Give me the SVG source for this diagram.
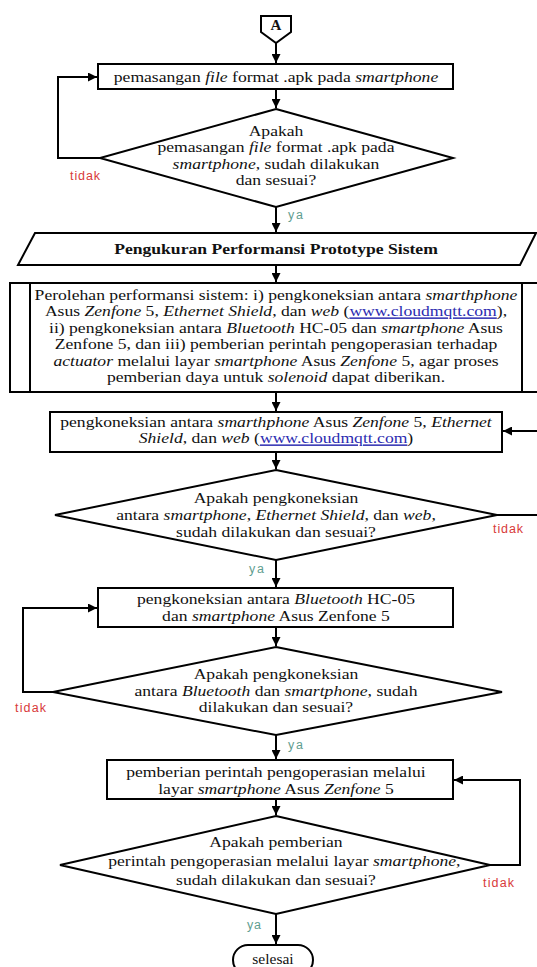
<svg xmlns="http://www.w3.org/2000/svg" width="537" height="967" viewBox="0 0 537 967">
<defs>
<style>
.s{fill:#fff;stroke:#000;stroke-width:2}
.c{fill:none;stroke:#000;stroke-width:2}
.t{font-family:"Liberation Serif","Times New Roman",serif;font-size:14.8px;fill:#111;text-anchor:middle}
.i{font-style:italic}
.b{font-weight:bold}
.lk{fill:#2b2bb0;text-decoration:underline}
.no{font-family:"Liberation Sans",Arial,sans-serif;font-size:12.5px;fill:#d83a3a}
.ya{font-family:"Liberation Sans",Arial,sans-serif;font-size:12.5px;fill:#5f9e90}
</style>
<marker id="ah" viewBox="0 0 10 10" refX="10" refY="5" markerWidth="9" markerHeight="9" markerUnits="userSpaceOnUse" orient="auto"><path d="M0,0 L10,5 L0,10 z" fill="#000"/></marker>
</defs>
<rect width="537" height="967" fill="#fff"/>

<g id="connectors">
<path class="c" d="M276,43 V63" marker-end="url(#ah)"/>
<path class="c" d="M276,89 V108" marker-end="url(#ah)"/>
<path class="c" d="M100,158 H58 V77 H97" marker-end="url(#ah)"/>
<path class="c" d="M276,207 V232" marker-end="url(#ah)"/>
<path class="c" d="M276,265 V282" marker-end="url(#ah)"/>
<path class="c" d="M276,392 V411" marker-end="url(#ah)"/>
<path class="c" d="M276,452 V469" marker-end="url(#ah)"/>
<path class="c" d="M497,515 H541 V431 H503" marker-end="url(#ah)"/>
<path class="c" d="M276,560 V587" marker-end="url(#ah)"/>
<path class="c" d="M276,627 V646" marker-end="url(#ah)"/>
<path class="c" d="M53,692 H23 V608 H97" marker-end="url(#ah)"/>
<path class="c" d="M276,735 V759" marker-end="url(#ah)"/>
<path class="c" d="M276,799 V815" marker-end="url(#ah)"/>
<path class="c" d="M490,865 H520 V780 H454" marker-end="url(#ah)"/>
<path class="c" d="M276,914 V944" marker-end="url(#ah)"/>
<text class="no" x="70" y="180" textLength="30">tidak</text>
<text class="ya" x="288" y="219" textLength="15">ya</text>
<text class="no" x="493" y="533" textLength="30">tidak</text>
<text class="ya" x="249" y="573" textLength="15">ya</text>
<text class="no" x="15" y="712" textLength="31">tidak</text>
<text class="ya" x="288" y="749" textLength="15">ya</text>
<text class="no" x="483" y="887" textLength="31">tidak</text>
<text class="ya" x="247" y="929" textLength="14">ya</text>
</g>

<g id="node-A">
<polygon class="s" points="261,16 291,16 291,32 276,43 261,32"/>
<text class="t b" x="276" y="30" style="font-size:15px">A</text>
</g>

<g id="node-install">
<rect class="s" x="98" y="64" width="355" height="25"/>
<g transform="matrix(1.19 0 0 1 -52.44 0)">
<text class="t" x="276" y="82">pemasangan <tspan class="i">file</tspan> format .apk pada <tspan class="i">smartphone</tspan></text>
</g>
</g>

<g id="node-check-install">
<polygon class="s" points="276,109 453,158 276,207 100,158"/>
<g transform="matrix(1.19 0 0 1 -52.44 0)">
<text class="t" x="276" y="136">Apakah</text>
<text class="t" x="276" y="152.5">pemasangan <tspan class="i">file</tspan> format .apk pada</text>
<text class="t" x="276" y="169">
<tspan class="i">smartphone</tspan>, sudah dilakukan</text>
<text class="t" x="276" y="185.5">dan sesuai?</text>
</g>
</g>

<g id="node-title">
<polygon class="s" points="35,233 536,233 520,265 18,265"/>
<g transform="matrix(1.19 0 0 1 -52.44 0)">
<text class="t b" x="276" y="254">Pengukuran Performansi Prototype Sistem</text>
</g>
</g>

<g id="node-performance">
<rect class="s" x="10" y="283" width="534" height="109"/>
<line class="c" x1="30" y1="283" x2="30" y2="392"/>
<line class="c" x1="522" y1="283" x2="522" y2="392"/>
<g transform="matrix(1.19 0 0 1 -52.44 0)">
<text class="t" x="276" y="300">Perolehan performansi sistem: i) pengkoneksian antara <tspan class="i">smarthphone</tspan></text>
<text class="t" x="276" y="316.5">Asus <tspan class="i">Zenfone</tspan> 5, <tspan class="i">Ethernet Shield</tspan>, dan <tspan class="i">web</tspan> (<tspan class="lk">www.cloudmqtt.com</tspan>),</text>
<text class="t" x="276" y="333">ii) pengkoneksian antara <tspan class="i">Bluetooth</tspan> HC-05 dan <tspan class="i">smartphone</tspan> Asus</text>
<text class="t" x="276" y="349.5">Zenfone 5, dan iii) pemberian perintah pengoperasian terhadap</text>
<text class="t" x="276" y="366"><tspan class="i">actuator</tspan> melalui layar <tspan class="i">smartphone</tspan> Asus <tspan class="i">Zenfone</tspan> 5, agar proses</text>
<text class="t" x="276" y="382.5">pemberian daya untuk <tspan class="i">solenoid</tspan> dapat diberikan.</text>
</g>
</g>

<g id="node-web">
<rect class="s" x="50" y="412" width="452" height="40"/>
<g transform="matrix(1.19 0 0 1 -52.44 0)">
<text class="t" x="276" y="427">pengkoneksian antara <tspan class="i">smarthphone</tspan> Asus <tspan class="i">Zenfone</tspan> 5, <tspan class="i">Ethernet</tspan></text>
<text class="t" x="276" y="443.5"><tspan class="i">Shield</tspan>, dan <tspan class="i">web</tspan> (<tspan class="lk">www.cloudmqtt.com</tspan>)</text>
</g>
</g>

<g id="node-check-web">
<polygon class="s" points="276,470 497,515 276,560 55,515"/>
<g transform="matrix(1.19 0 0 1 -52.44 0)">
<text class="t" x="276" y="503">Apakah pengkoneksian</text>
<text class="t" x="276" y="520">antara <tspan class="i">smartphone</tspan>, <tspan class="i">Ethernet Shield</tspan>, dan <tspan class="i">web</tspan>,</text>
<text class="t" x="276" y="537">sudah dilakukan dan sesuai?</text>
</g>
</g>

<g id="node-bluetooth">
<rect class="s" x="98" y="588" width="355" height="39"/>
<g transform="matrix(1.19 0 0 1 -52.44 0)">
<text class="t" x="276" y="604">pengkoneksian antara <tspan class="i">Bluetooth</tspan> HC-05</text>
<text class="t" x="276" y="621">dan <tspan class="i">smartphone</tspan> Asus Zenfone 5</text>
</g>
</g>

<g id="node-check-bluetooth">
<polygon class="s" points="276,647 502,692 276,735 53,692"/>
<g transform="matrix(1.19 0 0 1 -52.44 0)">
<text class="t" x="276" y="679.5">Apakah pengkoneksian</text>
<text class="t" x="276" y="696">antara <tspan class="i">Bluetooth</tspan> dan <tspan class="i">smartphone</tspan>, sudah</text>
<text class="t" x="276" y="712.5">dilakukan dan sesuai?</text>
</g>
</g>

<g id="node-command">
<rect class="s" x="107" y="760" width="346" height="39"/>
<g transform="matrix(1.19 0 0 1 -52.44 0)">
<text class="t" x="276" y="777">pemberian perintah pengoperasian melalui</text>
<text class="t" x="276" y="794">layar <tspan class="i">smartphone</tspan> Asus <tspan class="i">Zenfone</tspan> 5</text>
</g>
</g>

<g id="node-check-command">
<polygon class="s" points="276,816 490,865 276,914 60,865"/>
<g transform="matrix(1.19 0 0 1 -52.44 0)">
<text class="t" x="276" y="847">Apakah pemberian</text>
<text class="t" x="283" y="866">perintah pengoperasian melalui layar <tspan class="i">smartphone</tspan>,</text>
<text class="t" x="276" y="885">sudah dilakukan dan sesuai?</text>
</g>
</g>

<g id="node-end">
<rect class="s" x="233" y="945" width="80" height="30" rx="15"/>
<text class="t" x="273" y="964" style="font-size:15.5px">selesai</text>
</g>
</svg>
